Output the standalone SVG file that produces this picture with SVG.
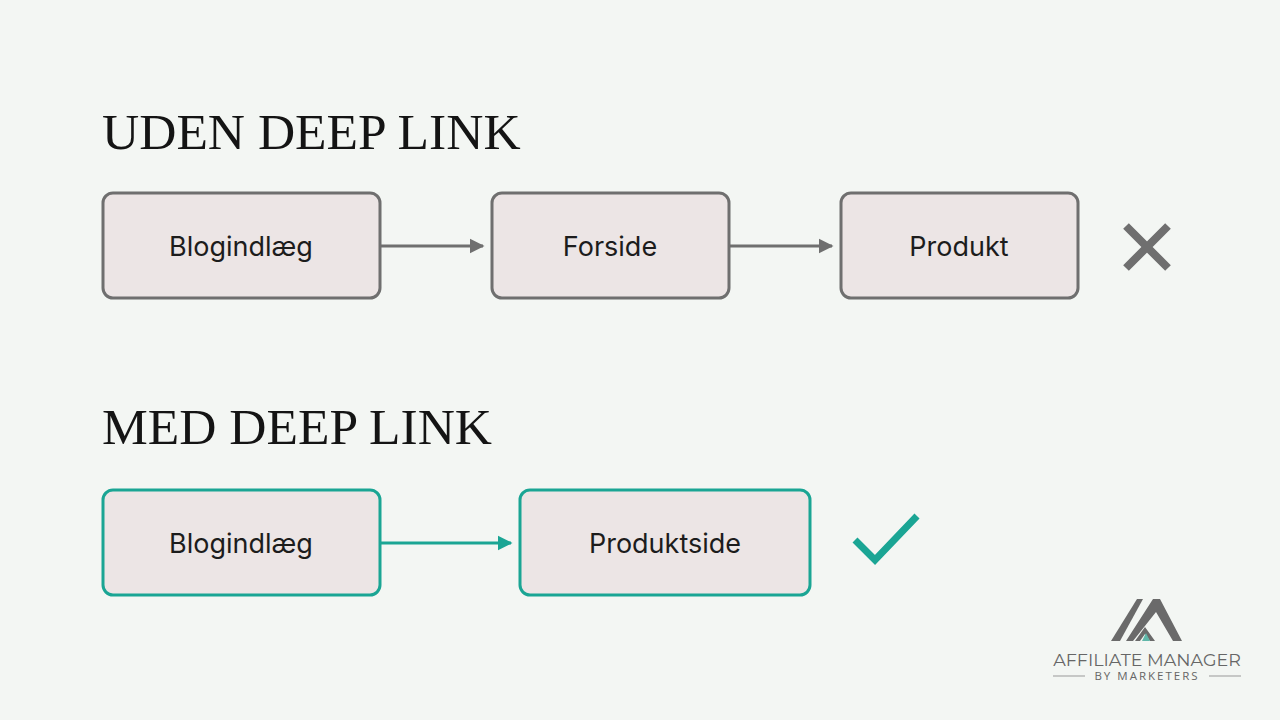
<svg xmlns="http://www.w3.org/2000/svg" width="1280" height="720" viewBox="0 0 1280 720">
<defs>
<style>
.t{font-family:"Liberation Serif",serif;font-size:51.5px;fill:#141414}
.l{font-family:"Inter","Noto Sans",sans-serif;font-size:27px;fill:#1c1c1c;text-anchor:middle}
.g{fill:#ece5e5;stroke:#6f6f6f;stroke-width:3}
.c{fill:#ece5e5;stroke:#1aa594;stroke-width:3}
</style>
<marker id="ag" viewBox="0 0 10 10" refX="9" refY="5" markerWidth="15" markerHeight="16" markerUnits="userSpaceOnUse"><path d="M0 0L10 5L0 10z" fill="#6f6f6f"/></marker>
<marker id="at" viewBox="0 0 10 10" refX="9" refY="5" markerWidth="15" markerHeight="16" markerUnits="userSpaceOnUse"><path d="M0 0L10 5L0 10z" fill="#1aa594"/></marker>
</defs>
<rect width="1280" height="720" fill="#f3f6f3"/>
<text class="t" x="102" y="149">UDEN DEEP LINK</text>
<text class="t" x="102" y="444">MED DEEP LINK</text>
<g id="connectors">
<line x1="381" y1="246" x2="483" y2="246" stroke="#6f6f6f" stroke-width="3" marker-end="url(#ag)"/>
<line x1="730" y1="246" x2="832" y2="246" stroke="#6f6f6f" stroke-width="3" marker-end="url(#ag)"/>
<line x1="381" y1="543" x2="511" y2="543" stroke="#1aa594" stroke-width="3" marker-end="url(#at)"/>
</g>
<g id="n1"><rect class="g" x="103" y="193" width="277" height="105" rx="10"/><text class="l" x="241" y="256">Blogindlæg</text></g>
<g id="n2"><rect class="g" x="492" y="193" width="237" height="105" rx="10"/><text class="l" x="610" y="256">Forside</text></g>
<g id="n3"><rect class="g" x="841" y="193" width="237" height="105" rx="10"/><text class="l" x="959" y="256">Produkt</text></g>
<g id="n4"><rect class="c" x="103" y="490" width="277" height="105" rx="10"/><text class="l" x="241" y="553">Blogindlæg</text></g>
<g id="n5"><rect class="c" x="520" y="490" width="290" height="105" rx="10"/><text class="l" x="665" y="553">Produktside</text></g>
<g id="x"><path d="M1126 226L1168 268M1168 226L1126 268" stroke="#6f6f6f" stroke-width="8"/></g>
<g id="check"><path d="M855 540L875 560L917 516" fill="none" stroke="#1aa594" stroke-width="7"/></g>
<g id="logo">
<polygon points="1111,641 1137,599 1143,599 1120,641" fill="#6a6a6a"/>
<polygon points="1126,641 1153,599 1160,599 1182,641 1173,641 1156,612 1133,641" fill="#6a6a6a"/>
<polygon points="1135,641 1145,627 1155,641 1150,641 1145,634 1140,641" fill="#6a6a6a"/>
<polygon points="1142,641 1146,633 1150,641" fill="#5fb7a9"/>
<text x="1147" y="666" font-family="Montserrat,'Open Sans',sans-serif" font-size="17.5" fill="#666" text-anchor="middle">AFFILIATE MANAGER</text>
<text x="1147" y="680" font-family="'Open Sans',sans-serif" font-size="11.5" fill="#666" text-anchor="middle" letter-spacing="2">BY MARKETERS</text>
<line x1="1053" y1="676" x2="1085" y2="676" stroke="#999"/>
<line x1="1209" y1="676" x2="1241" y2="676" stroke="#999"/>
</g>
</svg>
